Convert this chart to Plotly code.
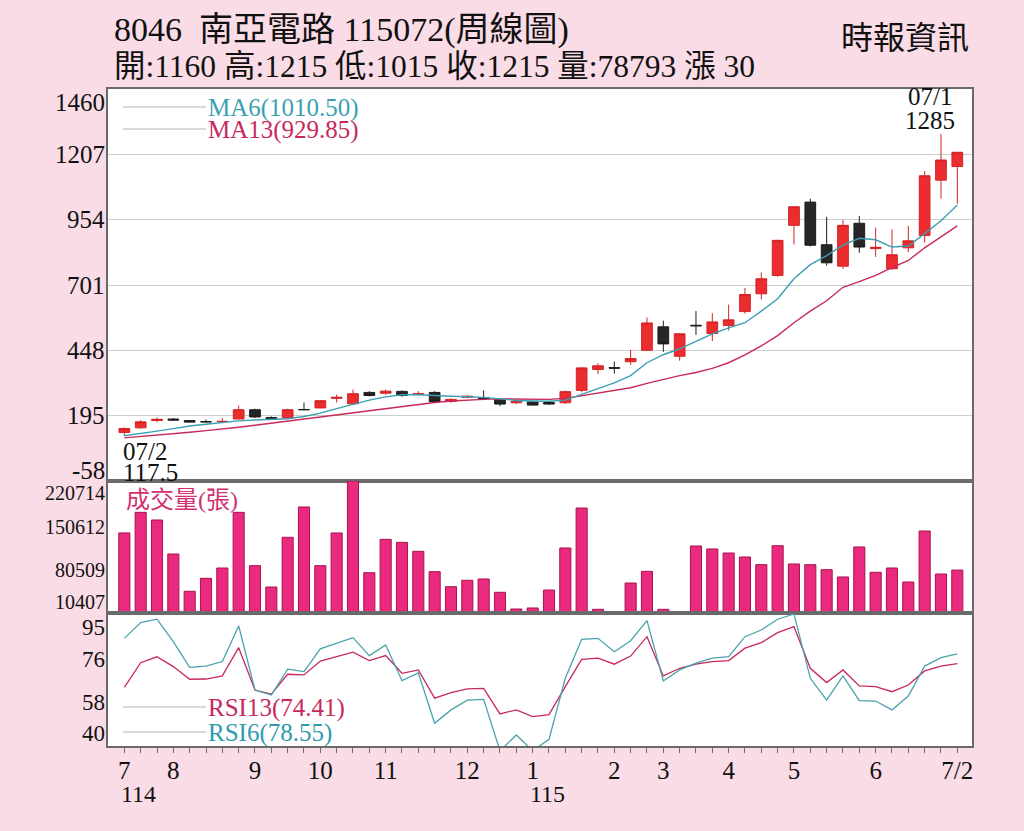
import plotly.graph_objects as go
from plotly.subplots import make_subplots

# ---------------- data ----------------
weeks = list(range(52))
month_labels = {0: "7", 3: "8", 8: "9", 12: "10", 16: "11", 21: "12", 25: "1",
                30: "2", 33: "3", 37: "4", 41: "5", 46: "6", 51: "7/2"}
year_labels = {0: "114", 25: "115"}

opens = [130, 148, 176, 182, 176, 172, 172, 182, 218, 188, 186, 219, 225, 262, 241, 285,
         282, 289, 278, 285, 250, 266, 264, 257, 245, 248, 246, 245, 293, 374, 381, 404,
         448, 539, 425, 545, 513, 544, 598, 667, 738, 932, 1022, 857, 774, 940, 842, 764,
         845, 893, 1107, 1160]
highs = [150, 178, 188, 186, 178, 180, 185, 234, 222, 192, 222, 246, 256, 276, 296, 290,
         296, 293, 290, 290, 262, 275, 293, 260, 252, 252, 250, 292, 383, 398, 405, 450,
         575, 563, 515, 600, 592, 625, 690, 750, 876, 1006, 1035, 965, 952, 968, 923, 916,
         930, 1142, 1285, 1215]
lows = [117.5, 145, 170, 175, 168, 168, 169, 180, 186, 182, 183, 217, 223, 246, 238, 270,
        276, 268, 273, 245, 245, 262, 258, 232, 240, 234, 236, 240, 285, 356, 358, 392,
        445, 442, 408, 508, 484, 525, 590, 645, 733, 858, 850, 776, 764, 826, 810, 760,
        828, 865, 1035, 1015]
closes = [145, 171, 181, 178, 170, 171, 173, 218, 190, 184, 218, 218, 253, 266, 280, 273,
          290, 273, 280, 250, 258, 270, 262, 240, 249, 236, 240, 288, 380, 388, 379, 416,
          554, 473, 512, 543, 558, 566, 664, 725, 874, 1004, 855, 787, 932, 848, 847, 818,
          872, 1124, 1185, 1215]

ma6 = [117, 125, 135, 145, 155, 162, 168, 175, 178, 180, 183, 192, 205, 222, 240, 255,
       268, 276, 276, 272, 270, 268, 266, 260, 254, 252, 251, 255, 276, 300, 322, 350,
       400, 431, 454, 482, 512, 535, 555, 600, 648, 725, 780, 815, 855, 882, 876, 848,
       852, 900, 950, 1010.5]
ma13 = [109, 114, 120, 125, 131, 137, 143, 150, 158, 166, 175, 183, 192, 200, 208, 216,
        224, 232, 240, 246, 252, 256, 258, 260, 260, 259, 258, 262, 272, 281, 291, 303,
        320, 336, 350, 362, 378, 400, 430, 465, 505, 555, 600, 640, 692, 714, 738, 768,
        796, 845, 888, 929.85]

volume = [138000, 170800, 158600, 104400, 45000, 65700, 82100, 170800, 85800, 51800,
          131000, 179300, 85800, 137900, 220714, 74600, 127800, 123000, 108700, 76200,
          52300, 62500, 64600, 43400, 16800, 18400, 47000, 114000, 177700, 16300,
          12500, 58200, 76800, 16300, None, 117100, 112400, 106000, 99600, 87400,
          117600, 88500, 87400, 79400, 67800, 115600, 75200, 82100, 59800, 141000,
          72500, 78793]

rsi13 = [64.5, 74.8, 77.3, 73.2, 67.9, 68, 69.3, 81.1, 63.4, 61.7, 70, 69.7, 75.5, 77.3,
         79.2, 75.7, 77.8, 70.4, 71.8, 60, 62.3, 63.9, 64.1, 53.4, 55.1, 52.3, 53.1, 64.8,
         76.2, 76.7, 74.2, 77.6, 85.7, 69.3, 72.5, 74.2, 75.3, 75.7, 80.9, 83.2, 87.4, 89.9,
         72.5, 66.5, 71.8, 65.1, 64.8, 62.7, 65.5, 71.4, 73.4, 74.41]
rsi6 = [85, 91.6, 93, 83.6, 72.9, 73.4, 75.3, 90.2, 63.4, 61.3, 72.1, 71.1, 80.6, 83,
        85.3, 77.8, 82.2, 67.3, 70.6, 49.5, 55.1, 59.2, 59.5, 38, 44.6, 38, 42.8, 68.3,
        84.6, 85, 79.4, 84, 92.4, 67.2, 71.8, 74.6, 76.7, 77.4, 85.7, 88.5, 93, 95.2,
        68.3, 59.2, 69.3, 59, 58.8, 55.1, 60.9, 73.4, 76.9, 78.55]

price_ticks = [1460, 1207, 954, 701, 448, 195, -58]
vol_ticks = [220714, 150612, 80509, 10407]
rsi_ticks = [95, 76, 58, 40]

title1 = "8046  南亞電路 115072(周線圖)"
title2 = "開:1160 高:1215 低:1015 收:1215 量:78793 漲 30"
source = "時報資訊"

# ---------------- style ----------------
PINK = "#f9dce6"
RED = "#ec2d2f"
TEAL = "#3a9fb2"
CRIMSON = "#c8285c"
VOLC = "#ea2a7e"
FONT = "Liberation Serif, Noto Sans CJK TC, serif"
AX = "#6a6a6a"

fig = make_subplots(rows=3, cols=1, shared_xaxes=True, vertical_spacing=0,
                    row_heights=[392, 132, 133])

fig.add_trace(go.Scatter(x=weeks, y=ma13, mode="lines", line=dict(color=CRIMSON, width=1.4)), 1, 1)
fig.add_trace(go.Scatter(x=weeks, y=ma6, mode="lines", line=dict(color=TEAL, width=1.4)), 1, 1)
fig.add_trace(go.Candlestick(x=weeks, open=opens, high=highs, low=lows, close=closes,
                             increasing=dict(line=dict(color="#d42326", width=1), fillcolor=RED),
                             decreasing=dict(line=dict(color="#1c1c1c", width=1), fillcolor="#262626"),
                             whiskerwidth=0), 1, 1)

fig.add_trace(go.Bar(x=weeks, y=volume, marker=dict(color=VOLC, line=dict(color="#a8124e", width=1)),
                     width=0.68), 2, 1)

fig.add_trace(go.Scatter(x=weeks, y=rsi13, mode="lines", line=dict(color=CRIMSON, width=1.3)), 3, 1)
fig.add_trace(go.Scatter(x=weeks, y=rsi6, mode="lines", line=dict(color="#4aa2ac", width=1.3)), 3, 1)

fig.update_layout(
    width=1024, height=831, showlegend=False,
    paper_bgcolor=PINK, plot_bgcolor="white",
    margin=dict(l=108, r=52, t=89, b=85),
    font=dict(family=FONT, color="#111"),
    boxgap=0.2, boxgroupgap=0.18,
)

for r in (1, 2, 3):
    fig.update_xaxes(range=[-1, 51.9], showline=True, mirror=True, linecolor=AX, linewidth=1.5,
                     showgrid=False, zeroline=False, rangeslider=dict(visible=False), row=r, col=1)

fig.update_xaxes(tickmode="array", tickvals=weeks,
                 ticktext=[month_labels.get(w, "") for w in weeks],
                 ticks="outside", ticklen=5, tickcolor=AX, tickwidth=1,
                 ticklabelstandoff=-4,
                 showticklabels=True, tickfont=dict(size=25, family=FONT, color="#111"),
                 row=3, col=1)

fig.update_yaxes(range=[-58, 1460], tickvals=price_ticks[1:-1], showticklabels=False,
                 showgrid=True, gridcolor="#cdcdcd", gridwidth=1, zeroline=False,
                 showline=True, mirror=True, linecolor=AX, linewidth=1.5, row=1, col=1)
fig.update_yaxes(range=[10407, 220714], showticklabels=False, showgrid=False, zeroline=False,
                 showline=True, mirror=True, linecolor=AX, linewidth=1.5, row=2, col=1)
fig.update_yaxes(range=[40, 95.6], showticklabels=False, showgrid=False, zeroline=False,
                 showline=True, mirror=True, linecolor=AX, linewidth=1.5, row=3, col=1)

ann = []

def ylab(text, y, yref, shift, size):
    ann.append(dict(text=text, x=0, xref="paper", xanchor="right", xshift=-1,
                    y=y, yref=yref, yanchor="middle", yshift=shift, showarrow=False,
                    font=dict(size=size, family=FONT, color="#111")))

pshift = {1460: -13, -58: 11}
for t in price_ticks:
    ylab(str(t), t, "y", pshift.get(t, 0), 25)
vshift = {220714: -12, 150612: -2, 80509: -1, 10407: 11}
for t in vol_ticks:
    ylab(str(t), t, "y2", vshift[t], 20)
rshift = {95: -13, 76: 0, 58: 0, 40: 13}
for t in rsi_ticks:
    ylab(str(t), t, "y3", rshift[t], 23)

# year labels under month labels
for w, t in year_labels.items():
    ann.append(dict(text=t, x=w, xref="x3", xanchor="left", xshift=-5, y=0, yref="paper",
                    yanchor="middle", yshift=-48, showarrow=False,
                    font=dict(size=24, family=FONT, color="#111")))

# low / high annotations
ilo = lows.index(min(lows))
ihi = highs.index(max(highs))
ann.append(dict(text="07/2", x=ilo, xref="x", xanchor="left", xshift=-3, y=lows[ilo], yref="y",
                yanchor="middle", yshift=-16, showarrow=False, font=dict(size=25, family=FONT, color="#111")))
ann.append(dict(text=f"{lows[ilo]}", x=ilo, xref="x", xanchor="left", xshift=-3, y=lows[ilo], yref="y",
                yanchor="middle", yshift=-37, showarrow=False, font=dict(size=25, family=FONT, color="#111")))
ann.append(dict(text="07/1", x=ihi, xref="x", xanchor="center", xshift=-11, y=highs[ihi], yref="y",
                yanchor="middle", yshift=38, showarrow=False, font=dict(size=25, family=FONT, color="#111")))
ann.append(dict(text=f"{highs[ihi]}", x=ihi, xref="x", xanchor="center", xshift=-11, y=highs[ihi], yref="y",
                yanchor="middle", yshift=14, showarrow=False, font=dict(size=25, family=FONT, color="#111")))

# legends (text) – positions in paper coords of the plotting area
def px(x):
    return (x - 108) / 864

def py(y):
    return (746 - y) / 657

legend_items = [
    (f"MA6({ma6[-1]:.2f})", TEAL, 108),
    (f"MA13({ma13[-1]:.2f})", CRIMSON, 130),
    (f"RSI13({rsi13[-1]:.2f})", CRIMSON, 708),
    (f"RSI6({rsi6[-1]:.2f})", "#2f9aae", 733),
]
shapes = []
for text, col, yc in legend_items:
    ann.append(dict(text=text, x=px(206), xref="paper", xanchor="left", y=py(yc), yref="paper",
                    yanchor="middle", showarrow=False, font=dict(size=25, family=FONT, color=col)))
    shapes.append(dict(type="line", xref="paper", yref="paper", x0=px(123), x1=px(206),
                       y0=py(yc - 1), y1=py(yc - 1), line=dict(color="#b5b5b5", width=1)))

ann.append(dict(text="成交量(張)", x=px(124), xref="paper", xanchor="left", y=py(500), yref="paper",
                yanchor="middle", showarrow=False, font=dict(size=24, family=FONT, color="#d23070")))

# titles
ann.append(dict(text=title1, x=px(112), xref="paper", xanchor="left", y=py(30), yref="paper",
                yanchor="middle", showarrow=False, font=dict(size=34, family=FONT, color="#111")))
ann.append(dict(text=title2, x=px(112), xref="paper", xanchor="left", y=py(66), yref="paper",
                yanchor="middle", showarrow=False, font=dict(size=31.5, family=FONT, color="#111")))
ann.append(dict(text=source, x=px(971), xref="paper", xanchor="right", y=py(38), yref="paper",
                yanchor="middle", showarrow=False, font=dict(size=32, family=FONT, color="#111")))

fig.update_layout(annotations=ann, shapes=shapes)

fig.write_html("out.html")
